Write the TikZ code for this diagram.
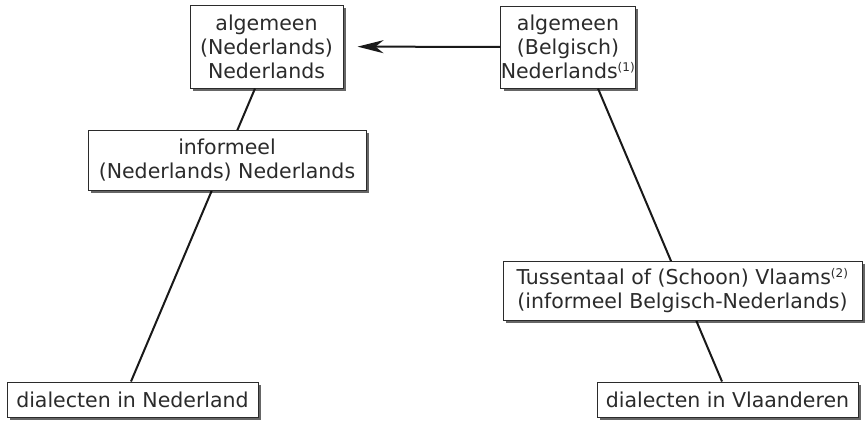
\documentclass[tikz,border=0pt]{standalone}
\usepackage{fontspec}
\setmainfont{DejaVu Sans}
\usetikzlibrary{arrows.meta,shadows}
\definecolor{ink}{HTML}{2B2B2B}

\begin{document}
\begin{tikzpicture}
[x=1pt,y=-1pt,
 taal/.style={draw=ink,line width=1pt,fill=white,text=ink,align=center,inner sep=0pt,
   font=\fontsize{20.5}{24}\selectfont,
   drop shadow={shadow xshift=3pt,shadow yshift=-3pt,fill=black,opacity=0.6}},
 lijn/.style={draw=black!90,line width=2pt}]
\useasboundingbox (0,0) rectangle (865,421);
\node[taal,minimum width=153pt,minimum height=83pt] (algNL) at (266.5,46.5) {algemeen\\(Nederlands)\\Nederlands};
\node[taal,minimum width=114pt,minimum height=82pt] (algBE) at (568,47) {algemeen\\(Belgisch)\\Nederlands\textsuperscript{\fontsize{12}{12}\selectfont(1)}};
\node[taal,minimum width=251pt,minimum height=35pt] (dialNL) at (132.5,399.5) {dialecten in Nederland};
\node[taal,minimum width=261pt,minimum height=35pt] (dialVL) at (727.5,399.5) {dialecten in Vlaanderen};

\draw[lijn] ([xshift=-11.5pt]algNL.south) -- ([xshift=-1.5pt]dialNL.north);
\draw[lijn] ([xshift=30pt]algBE.south) -- ([xshift=-5.5pt]dialVL.north);

\node[taal,minimum width=278pt,minimum height=60pt] (infNL) at (227,160) {informeel\\(Nederlands) Nederlands};
\node[taal,minimum width=359pt,minimum height=59pt] (tussen) at (682.5,290.5) {Tussentaal of (Schoon) Vlaams\textsuperscript{\fontsize{12}{12}\selectfont(2)}\\(informeel Belgisch-Nederlands)};

\draw[lijn,-{Stealth[length=26pt,width=13pt,inset=8pt]},shorten >=14pt] (algBE) -- (algNL);
\end{tikzpicture}
\end{document}
